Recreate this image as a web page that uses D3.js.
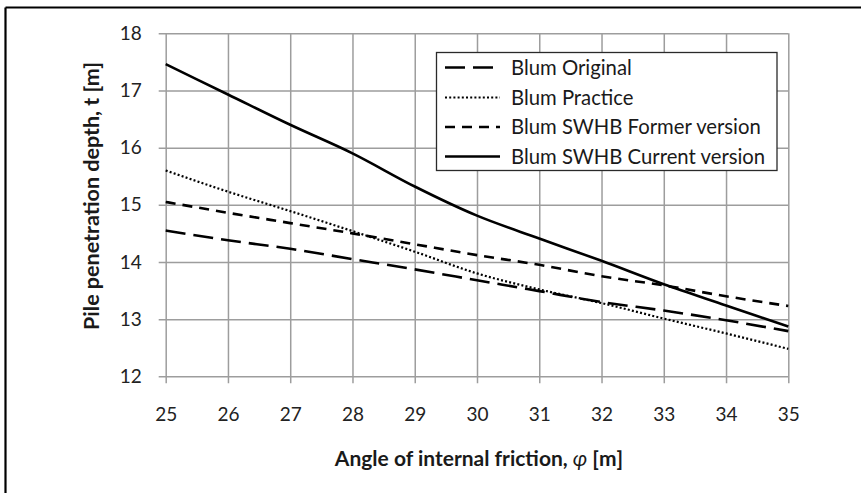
<!DOCTYPE html>
<html>
<head>
<meta charset="utf-8">
<script src="https://cdn.jsdelivr.net/npm/d3@7/dist/d3.min.js"></script>
<style>
  html, body { margin: 0; padding: 0; background: #fff; }
  svg { display: block; }
  text { font-family: Lato, "Open Sans", sans-serif; fill: #1a1a1a; }
</style>
</head>
<body>
<svg id="chart" width="861" height="493"></svg>
<script>
// ---- data ----
const angles = [25, 26, 27, 28, 29, 30, 31, 32, 33, 34, 35];
const blumOriginal = [14.55, 14.38, 14.23, 14.05, 13.87, 13.68, 13.49, 13.30, 13.15, 12.98, 12.79];
const blumPractice = [15.60, 15.23, 14.89, 14.54, 14.18, 13.80, 13.52, 13.28, 13.01, 12.75, 12.48];
const blumSWHBFormer = [15.05, 14.86, 14.68, 14.50, 14.31, 14.12, 13.95, 13.75, 13.59, 13.40, 13.23];
const blumSWHBCurrent = [17.46, 16.93, 16.40, 15.90, 15.32, 14.81, 14.41, 14.02, 13.61, 13.24, 12.87];
const seriesNames = ["Blum Original", "Blum Practice", "Blum SWHB Former version", "Blum SWHB Current version"];
const xTicks = [25, 26, 27, 28, 29, 30, 31, 32, 33, 34, 35];
const yTicks = [12, 13, 14, 15, 16, 17, 18];
const xTitle = "Angle of internal friction, ";
const yTitle = "Pile penetration depth, t [m]";

// ---- layout ----
const svg = d3.select("#chart");
const x0 = 165.7, x1 = 788.3, y0 = 376.3, y1 = 33.3;
const tickOut = 7;
const x = d3.scaleLinear().domain([25, 35]).range([x0, x1]);
const y = d3.scaleLinear().domain([12, 18]).range([y0, y1]);

// outer frame (top & left edges visible)
svg.append("line").attr("x1", 5.5).attr("x2", 861).attr("y1", 7.5).attr("y2", 7.5)
  .attr("stroke", "#000").attr("stroke-width", 2.2);
svg.append("line").attr("x1", 5.5).attr("x2", 5.5).attr("y1", 7.5).attr("y2", 493)
  .attr("stroke", "#000").attr("stroke-width", 2.2);

// y axis + horizontal grid
const gy = svg.append("g")
  .attr("transform", `translate(${x0 - tickOut},0)`)
  .call(d3.axisLeft(y).tickValues(yTicks).tickFormat(d3.format("d"))
    .tickSize(-(x1 - x0 + tickOut)).tickPadding(17));
gy.select(".domain").remove();
gy.selectAll(".tick line").attr("stroke", "#9d9d9d").attr("stroke-width", 1.5);
gy.selectAll(".tick text").attr("font-size", 19).style("fill", "#222");

// x axis + vertical grid
const gx = svg.append("g")
  .attr("transform", `translate(0,${y0 + tickOut})`)
  .call(d3.axisBottom(x).tickValues(xTicks).tickFormat(d3.format("d"))
    .tickSize(-(y0 - y1 + tickOut)).tickPadding(24.5));
gx.select(".domain").remove();
gx.selectAll(".tick line").attr("stroke", "#9d9d9d").attr("stroke-width", 1.5);
gx.selectAll(".tick text").attr("font-size", 19).style("fill", "#222");

// series
const seriesData = [blumOriginal, blumPractice, blumSWHBFormer, blumSWHBCurrent];
const styles = [
  { dash: "20,8", w: 2.6 },
  { dash: "2,2.2", w: 2.2 },
  { dash: "10,7", w: 2.6 },
  { dash: null, w: 2.6 }
];
const line = d3.line()
  .x((d, i) => x(angles[i]))
  .y(d => y(d))
  .curve(d3.curveMonotoneX);

seriesData.forEach((vals, k) => {
  svg.append("path")
    .datum(vals)
    .attr("d", line)
    .attr("fill", "none")
    .attr("stroke", "#000")
    .attr("stroke-width", styles[k].w)
    .attr("stroke-dasharray", styles[k].dash);
});

// legend
const lg = svg.append("g");
lg.append("rect").attr("x", 436.5).attr("y", 52.5).attr("width", 340.5).attr("height", 118)
  .attr("fill", "#fff").attr("stroke", "#2a2a2a").attr("stroke-width", 1.3);
const rowY = [67.5, 97.5, 127, 156.5];
seriesNames.forEach((name, k) => {
  lg.append("line").attr("x1", 445).attr("x2", 500).attr("y1", rowY[k]).attr("y2", rowY[k])
    .attr("stroke", "#000").attr("stroke-width", styles[k].w)
    .attr("stroke-dasharray", styles[k].dash);
  lg.append("text").attr("x", 511).attr("y", rowY[k]).attr("dy", "0.35em")
    .attr("font-size", 20.3).text(name);
});

// axis titles
const xt = svg.append("text")
  .attr("x", 479).attr("y", 466)
  .attr("text-anchor", "middle").attr("font-size", 21).attr("font-weight", "bold");
xt.append("tspan").text(xTitle);
xt.append("tspan").attr("font-style", "italic").attr("font-weight", "normal").text("φ");
xt.append("tspan").text(" [m]");

svg.append("text")
  .attr("transform", `translate(99,196) rotate(-90)`)
  .attr("text-anchor", "middle").attr("font-size", 21.5).attr("font-weight", "bold")
  .text(yTitle);
</script>
</body>
</html>
